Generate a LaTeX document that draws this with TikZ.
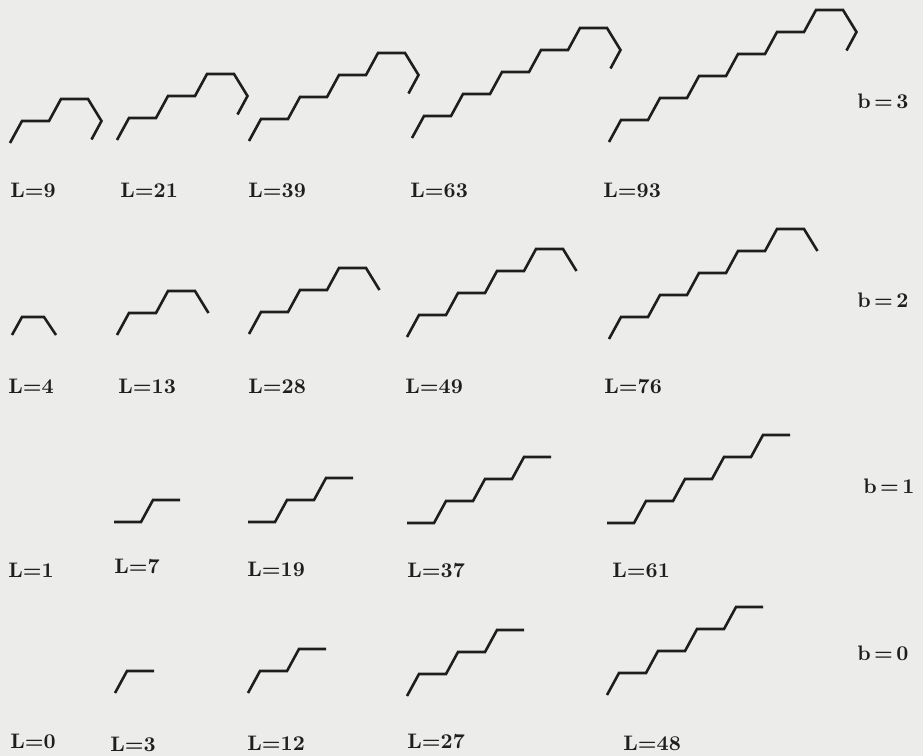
\documentclass[tikz,border=0pt]{standalone}
\usepackage{tikz}
\definecolor{paper}{HTML}{ECECEA}
\definecolor{ink}{HTML}{1E1E1E}
\tikzset{
  zigzag/.style={draw=ink,line width=1.3pt,line join=miter},
  lbl/.style={anchor=base west,inner sep=0pt,text=ink,font=\fontsize{10.5}{12}\selectfont\bfseries}
}

\begin{document}
\begin{tikzpicture}[x=0.5pt,y=-0.5pt]
\fill[paper] (0,0) rectangle (923,756);
% b = 3
\foreach \n/\sx/\sy in {2/10/143,3/117/140,4/249/141,5/412/138,6/609/142}
  \draw[zigzag] (\sx,\sy) \foreach \k in {1,...,\n}{ -- ++(12,-22) -- ++(27,0)} -- ++(13.5,22) -- ++(-10,18.5);
% b = 2
\draw[zigzag] (12,335) -- ++(10,-18) -- ++(22,0) -- ++(12,18);
\foreach \n/\sx/\sy in {2/117/335,3/249/334,4/407/337,5/609/339}
  \draw[zigzag] (\sx,\sy) \foreach \k in {1,...,\n}{ -- ++(12,-22) -- ++(27,0)} -- ++(13.5,22);
% b = 1
\foreach \n/\sx/\sy in {1/114/522,2/248/522,3/407/523,4/607/523}
  \draw[zigzag] (\sx,\sy) -- ++(27,0) \foreach \k in {1,...,\n}{ -- ++(12,-22) -- ++(27,0)};
% b = 0
\foreach \n/\sx/\sy in {1/115/693,2/248/693,3/407/696,4/607/695}
  \draw[zigzag] (\sx,\sy) \foreach \k in {1,...,\n}{ -- ++(12,-22) -- ++(27,0)};

\node[lbl] (l9) at (10,197) {L=9};
\node[lbl] (l21) at (120,197) {L=21};
\node[lbl] (l39) at (248,197) {L=39};
\node[lbl] (l63) at (410,197) {L=63};
\node[lbl] (l93) at (603,197) {L=93};
\node[lbl] (l4) at (8,393) {L=4};
\node[lbl] (l13) at (118,393) {L=13};
\node[lbl] (l28) at (248,393) {L=28};
\node[lbl] (l49) at (405,393) {L=49};
\node[lbl] (l76) at (604,393) {L=76};
\node[lbl] (l1) at (8,577) {L=1};
\node[lbl] (l7) at (114,573) {L=7};
\node[lbl] (l19) at (247,576) {L=19};
\node[lbl] (l37) at (407,577) {L=37};
\node[lbl] (l61) at (612,577) {L=61};
\node[lbl] (l0) at (10,748) {L=0};
\node[lbl] (l3) at (110,751) {L=3};
\node[lbl] (l12) at (247,750) {L=12};
\node[lbl] (l27) at (407,748) {L=27};
\node[lbl] (l48) at (623,750) {L=48};
\node[lbl] (b3) at (857,108) {b\hspace{1.7pt}=\hspace{1.7pt}3};
\node[lbl] (b2) at (857,307) {b\hspace{1.7pt}=\hspace{1.7pt}2};
\node[lbl] (b1) at (863,493) {b\hspace{1.7pt}=\hspace{1.7pt}1};
\node[lbl] (b0) at (857,660) {b\hspace{1.7pt}=\hspace{1.7pt}0};
\end{tikzpicture}
\end{document}
